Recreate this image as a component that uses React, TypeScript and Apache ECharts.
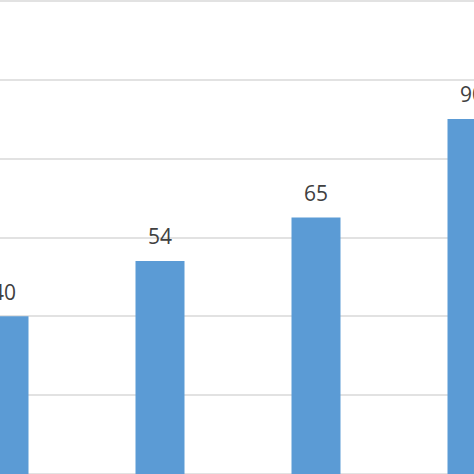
import React, { useEffect, useRef } from "react";
import * as echarts from "echarts";

const categories = ["A", "B", "C", "D"];
const values = [40, 54, 65, 90];
const yTicks = { min: 0, max: 120, interval: 20 };

export default function App() {
  const ref = useRef<HTMLDivElement>(null);
  useEffect(() => {
    document.body.style.margin = "0";
    const chart = echarts.init(ref.current!, null, { renderer: "svg" });
    chart.setOption({
      animation: false,
      backgroundColor: "#ffffff",
      grid: { left: 0, right: 0, top: 0.5, bottom: 0, containLabel: false },
      xAxis: {
        type: "category",
        data: categories,
        axisLine: { show: false },
        axisTick: { show: false },
        axisLabel: { show: false },
      },
      yAxis: {
        type: "value",
        min: yTicks.min,
        max: yTicks.max,
        interval: yTicks.interval,
        axisLine: { show: false },
        axisTick: { show: false },
        axisLabel: { show: false },
        splitLine: { lineStyle: { color: "#d9d9d9", width: 1.5 } },
      },
      series: [
        {
          type: "bar",
          data: values,
          barWidth: 49,
          itemStyle: { color: "#5b9bd5" },
          label: {
            show: true,
            position: "top",
            distance: 14,
            color: "#404040",
            fontSize: 21,
            fontFamily: "Open Sans",
          },
        },
      ],
    });
    return () => chart.dispose();
  }, []);
  return (
    <div style={{ width: 474, height: 474, position: "absolute", left: 0, top: 0, overflow: "hidden" }}>
      <div ref={ref} style={{ width: 624, height: 474, position: "absolute", left: -74.5, top: 0 }} />
    </div>
  );
}
